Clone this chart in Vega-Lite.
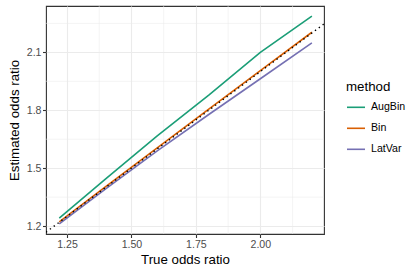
{
  "$schema": "https://vega.github.io/schema/vega-lite/v6.json",
  "width": 278,
  "height": 228,
  "autosize": "none",
  "padding": {"left": 46, "top": 6, "right": 95, "bottom": 39},
  "background": "white",
  "config": {
    "font": "Liberation Sans",
    "view": {"stroke": "#333333", "strokeWidth": 1.1},
    "axis": {
      "domain": false,
      "gridColor": "#EBEBEB",
      "gridWidth": 1.1,
      "tickColor": "#333333",
      "tickWidth": 1.1,
      "tickSize": 3.5,
      "labelColor": "#4D4D4D",
      "labelFontSize": 10.6,
      "labelPadding": 1.5,
      "titleColor": "#000000",
      "titleFontSize": 13.3,
      "titleFontWeight": "normal"
    },
    "legend": {
      "titleFontSize": 13.3,
      "titleFontWeight": "normal",
      "titleColor": "#000000",
      "labelFontSize": 10.6,
      "labelColor": "#000000"
    }
  },
  "datasets": {
    "est": [
      {"x": 1.22, "y": 1.241, "method": "AugBin"},
      {"x": 1.4, "y": 1.445, "method": "AugBin"},
      {"x": 1.6, "y": 1.667, "method": "AugBin"},
      {"x": 1.8, "y": 1.878, "method": "AugBin"},
      {"x": 2.0, "y": 2.1, "method": "AugBin"},
      {"x": 2.2, "y": 2.288, "method": "AugBin"},
      {"x": 1.22, "y": 1.222, "method": "Bin"},
      {"x": 1.4, "y": 1.404, "method": "Bin"},
      {"x": 1.6, "y": 1.605, "method": "Bin"},
      {"x": 1.8, "y": 1.806, "method": "Bin"},
      {"x": 2.0, "y": 2.005, "method": "Bin"},
      {"x": 2.2, "y": 2.204, "method": "Bin"},
      {"x": 1.22, "y": 1.211, "method": "LatVar"},
      {"x": 1.4, "y": 1.393, "method": "LatVar"},
      {"x": 1.6, "y": 1.59, "method": "LatVar"},
      {"x": 1.8, "y": 1.778, "method": "LatVar"},
      {"x": 2.0, "y": 1.963, "method": "LatVar"},
      {"x": 2.2, "y": 2.149, "method": "LatVar"}
    ],
    "identity": [
      {"x": 1.1685, "y": 1.1685},
      {"x": 2.247, "y": 2.247}
    ],
    "minorx": [{"v": 1.375}, {"v": 1.625}, {"v": 1.875}, {"v": 2.125}],
    "minory": [{"v": 1.35}, {"v": 1.65}, {"v": 1.95}, {"v": 2.25}]
  },
  "layer": [
    {
      "data": {"name": "minorx"},
      "mark": {"type": "rule", "color": "#EBEBEB", "strokeWidth": 0.55},
      "encoding": {
        "x": {"field": "v", "type": "quantitative"}
      }
    },
    {
      "data": {"name": "minory"},
      "mark": {"type": "rule", "color": "#EBEBEB", "strokeWidth": 0.55},
      "encoding": {
        "y": {"field": "v", "type": "quantitative"}
      }
    },
    {
      "data": {"name": "est"},
      "mark": {"type": "line", "strokeWidth": 1.6, "clip": true},
      "encoding": {
        "x": {
          "field": "x", "type": "quantitative",
          "scale": {"domain": [1.1685, 2.247], "nice": false, "zero": false},
          "axis": {"values": [1.25, 1.5, 1.75, 2.0], "format": ".2f", "title": "True odds ratio", "titlePadding": 3}
        },
        "y": {
          "field": "y", "type": "quantitative",
          "scale": {"domain": [1.159, 2.34], "nice": false, "zero": false},
          "axis": {"values": [1.2, 1.5, 1.8, 2.1], "format": ".1f", "title": "Estimated odds ratio", "titlePadding": 5}
        },
        "color": {
          "field": "method", "type": "nominal",
          "scale": {"domain": ["AugBin", "Bin", "LatVar"], "range": ["#1B9E77", "#D95F02", "#7570B3"]},
          "legend": {
            "title": "method",
            "orient": "none",
            "legendX": 300,
            "legendY": 74,
            "symbolType": "stroke",
            "symbolSize": 324,
            "symbolStrokeWidth": 1.6,
            "labelOffset": 5,
            "rowPadding": 5,
            "titlePadding": 4
          }
        },
        "detail": {"field": "method"}
      }
    },
    {
      "data": {"name": "identity"},
      "mark": {"type": "line", "color": "black", "strokeWidth": 1.4, "strokeDash": [1.4, 3.4], "clip": true},
      "encoding": {
        "x": {"field": "x", "type": "quantitative"},
        "y": {"field": "y", "type": "quantitative"}
      }
    }
  ]
}
